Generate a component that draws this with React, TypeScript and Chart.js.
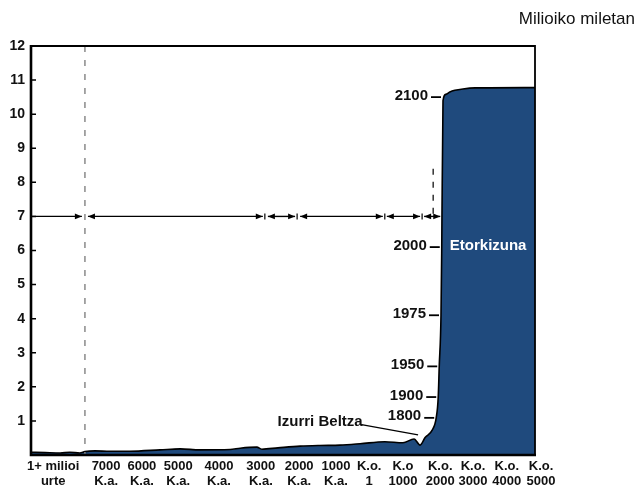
import React, { useEffect, useRef } from "react";
import { Chart, registerables } from "chart.js";

Chart.register(...registerables);

// ---- data ----
const xTickLabels: string[][] = [
  ["1+ milioi", "urte"],
  ["7000", "K.a."],
  ["6000", "K.a."],
  ["5000", "K.a."],
  ["4000", "K.a."],
  ["3000", "K.a."],
  ["2000", "K.a."],
  ["1000", "K.a."],
  ["K.o.", "1"],
  ["K.o", "1000"],
  ["K.o.", "2000"],
  ["K.o.", "3000"],
  ["K.o.", "4000"],
  ["K.o.", "5000"],
];
// position of each tick label along the (non-linear) time axis, 0..100
const xTickPositions = [4.4, 14.9, 22.0, 29.2, 37.3, 45.6, 53.2, 60.5, 67.1, 73.8, 81.2, 87.7, 94.4, 101.2];

// population curve (thousands of millions) along the time axis
const timeline = [
  0, 2.8, 5.8, 7.7, 9.7, 10.7, 12.7, 15.7, 19.6, 25.6, 29.6, 33.5, 39.5, 41.5, 44.8, 45.8, 49.0,
  53.4, 57.3, 61.3, 65.3, 70.2, 73.8, 76.0, 77.2, 78.2, 79.6, 80.4, 80.8, 81.0, 81.35, 81.5,
  81.75, 82.3, 83.1, 84.1, 85.7, 88.1, 100,
];
const population = [
  0.08, 0.07, 0.06, 0.08, 0.06, 0.1, 0.12, 0.11, 0.11, 0.15, 0.18, 0.15, 0.16, 0.2, 0.23, 0.17, 0.21,
  0.26, 0.28, 0.29, 0.33, 0.39, 0.36, 0.47, 0.29, 0.51, 0.73, 1.09, 1.7, 2.6, 4.1, 6.1,
  10.4, 10.58, 10.65, 10.7, 10.74, 10.77, 10.78,
];

// year markers on the rising curve
const yearLabels = ["1800", "1900", "1950", "1975", "2000", "2100"];
const yearTimeline = [80.4, 80.8, 81.0, 81.35, 81.5, 81.75];
const yearPopulation = [1.09, 1.7, 2.6, 4.1, 6.1, 10.5];

// era arrows drawn at population level 7
const eraLevel = 7;
const eraStarts = [0, 11.3, 47.0, 53.4, 70.6, 78.0];
const eraEnds = [10.1, 46.0, 52.4, 69.8, 77.2, 81.2];
const eraLeftHead = [false, true, true, true, true, true];
const eraSeparators = [46.4, 52.8, 70.2, 77.6];

// dashed era lines
const dashedX = [10.7, 79.8];
const dashedFrom = [12, 8.4];
const dashedTo = [0, 7.05];

// annotations
const unitLabel = "Milioiko miletan";
const futureLabel = "Etorkizuna";
const futureAt = { x: 90.7, y: 6.13 };
const plagueLabel = "Izurri Beltza";
const plagueTextAt = { x: 65.8, y: 0.97 };
const plagueLineFrom = { x: 65.3, y: 0.9 };
const plagueLineTo = { x: 76.8, y: 0.59 };

const FONT = "'Liberation Sans', Arial, Helvetica, sans-serif";

const overlay = {
  id: "overlay",
  afterDatasetsDraw(chart: any) {
    const { ctx, chartArea: a } = chart;
    const x = chart.scales.x;
    const y = chart.scales.y;
    const px = (v: number) => x.getPixelForValue(v);
    const py = (v: number) => y.getPixelForValue(v);
    ctx.save();

    // dashed lines
    ctx.lineWidth = 1.5;
    dashedX.forEach((dx, i) => {
      ctx.strokeStyle = i === 0 ? "#8a8a8a" : "#333";
      ctx.setLineDash(i === 0 ? [6, 8] : [6, 7]);
      ctx.beginPath();
      ctx.moveTo(px(dx), py(dashedFrom[i]));
      ctx.lineTo(px(dx), py(dashedTo[i]));
      ctx.stroke();
    });
    ctx.setLineDash([]);

    // frame
    ctx.strokeStyle = "#000";
    ctx.lineWidth = 1.8;
    ctx.beginPath();
    ctx.moveTo(a.left, a.top);
    ctx.lineTo(a.right, a.top);
    ctx.lineTo(a.right, a.bottom);
    ctx.stroke();
    ctx.lineWidth = 2.6;
    ctx.beginPath();
    ctx.moveTo(a.left, a.top - 1);
    ctx.lineTo(a.left, a.bottom);
    ctx.lineTo(a.right + 1, a.bottom);
    ctx.stroke();

    // inner y ticks
    ctx.lineWidth = 1.5;
    ctx.beginPath();
    y.ticks.forEach((t: any) => {
      if (t.value <= 0) return;
      const yy = py(t.value);
      ctx.moveTo(a.left, yy);
      ctx.lineTo(a.left + 5, yy);
    });
    ctx.stroke();

    // era arrows
    const ay = py(eraLevel);
    ctx.fillStyle = "#000";
    const head = (tipX: number, dir: number) => {
      ctx.beginPath();
      ctx.moveTo(tipX, ay);
      ctx.lineTo(tipX - dir * 7, ay - 2.8);
      ctx.lineTo(tipX - dir * 7, ay + 2.8);
      ctx.closePath();
      ctx.fill();
    };
    ctx.lineWidth = 1.4;
    eraStarts.forEach((s, i) => {
      const x0 = px(s);
      const x1 = px(eraEnds[i]);
      ctx.beginPath();
      ctx.moveTo(x0, ay);
      ctx.lineTo(x1, ay);
      ctx.stroke();
      head(x1, 1);
      if (eraLeftHead[i]) head(x0, -1);
    });
    ctx.lineWidth = 1.2;
    ctx.beginPath();
    eraSeparators.forEach((s) => {
      ctx.moveTo(px(s), ay - 3);
      ctx.lineTo(px(s), ay + 3);
    });
    ctx.stroke();

    // year markers
    ctx.font = `bold 15px ${FONT}`;
    ctx.textAlign = "right";
    ctx.textBaseline = "middle";
    ctx.fillStyle = "#111";
    ctx.lineWidth = 1.8;
    yearLabels.forEach((lab, i) => {
      const cx = px(yearTimeline[i]);
      const cy = py(yearPopulation[i]);
      ctx.beginPath();
      ctx.moveTo(cx - 12, cy);
      ctx.lineTo(cx - 2, cy);
      ctx.stroke();
      ctx.fillText(lab, cx - 15, cy - 1.5);
    });

    // plague annotation
    ctx.lineWidth = 1.2;
    ctx.beginPath();
    ctx.moveTo(px(plagueLineFrom.x), py(plagueLineFrom.y));
    ctx.lineTo(px(plagueLineTo.x), py(plagueLineTo.y));
    ctx.stroke();
    ctx.fillText(plagueLabel, px(plagueTextAt.x), py(plagueTextAt.y));

    // future label
    ctx.fillStyle = "#fff";
    ctx.textAlign = "center";
    ctx.fillText(futureLabel, px(futureAt.x), py(futureAt.y));

    // unit label
    ctx.fillStyle = "#111";
    ctx.font = `17px ${FONT}`;
    ctx.textAlign = "right";
    ctx.fillText(unitLabel, chart.width - 4, 19);

    ctx.restore();
  },
};

export default function App() {
  const ref = useRef<HTMLCanvasElement | null>(null);
  useEffect(() => {
    if (!ref.current) return;
    const chart = new Chart(ref.current, {
      type: "line",
      data: {
        datasets: [
          {
            data: timeline.map((t, i) => ({ x: t, y: population[i] })),
            fill: "origin",
            backgroundColor: "#1f4a7d",
            borderColor: "#000",
            borderWidth: 1.6,
            pointRadius: 0,
            cubicInterpolationMode: "monotone",
          },
        ],
      },
      options: {
        animation: false,
        responsive: false,
        devicePixelRatio: 1,
        layout: { padding: { left: 0, top: 46, right: 104, bottom: 0 } },
        plugins: { legend: { display: false }, tooltip: { enabled: false } },
        scales: {
          x: {
            type: "linear",
            min: 0,
            max: 100,
            grid: { display: false, drawTicks: false },
            border: { display: false },
            afterBuildTicks: (s: any) => {
              s.ticks = xTickPositions.map((v) => ({ value: v }));
            },
            afterFit: (s: any) => {
              s.height = 33;
            },
            ticks: {
              autoSkip: false,
              maxRotation: 0,
              minRotation: 0,
              padding: 4,
              color: "#111",
              font: { family: FONT, size: 13, weight: "bold", lineHeight: 1.15 },
              callback: (_v: any, i: number) => xTickLabels[i],
            },
          },
          y: {
            type: "linear",
            min: 0,
            max: 12,
            grid: { display: false, drawTicks: false },
            border: { display: false },
            afterFit: (s: any) => {
              s.width = 31;
            },
            ticks: {
              stepSize: 1,
              padding: 6,
              color: "#111",
              font: { family: FONT, size: 14, weight: "bold" },
              callback: (v: any) => (v === 0 ? "" : String(v)),
            },
          },
        },
      },
      plugins: [overlay],
    } as any);
    return () => chart.destroy();
  }, []);
  return (
    <canvas
      ref={ref}
      width={639}
      height={488}
      style={{ position: "fixed", left: 0, top: 0, width: 639, height: 488, background: "#fff" }}
    />
  );
}
